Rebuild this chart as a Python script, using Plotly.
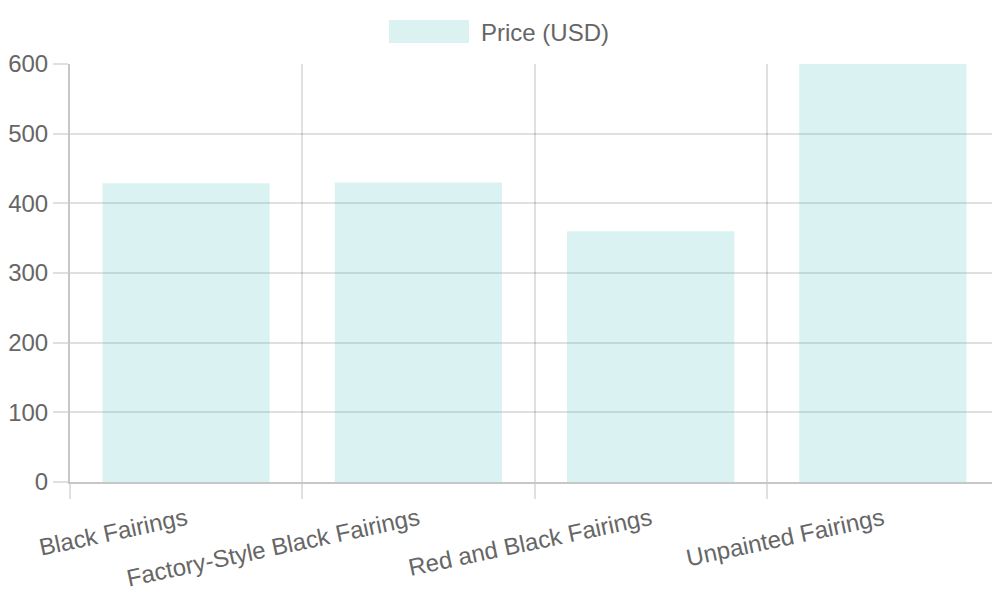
import plotly.graph_objs as go

categories = ["Black Fairings", "Factory-Style Black Fairings", "Red and Black Fairings", "Unpainted Fairings"]
prices = [429, 430, 360, 600]
series_name = "Price (USD)"
y_ticks = [0, 100, 200, 300, 400, 500, 600]

font_family = "Liberation Sans, Arial, sans-serif"
text_color = "#666666"
grid_color = "rgba(0,0,0,0.12)"
axis_color = "rgba(0,0,0,0.22)"
fill_color = "rgba(75,192,192,0.2)"

# the page has an 8px body margin, so the figure is a bit smaller than the window
fig_w, fig_h = 992, 592
m_l, m_r, m_t, m_b = 62, 1, 56, 118
plot_w = fig_w - m_l - m_r
plot_h = fig_h - m_t - m_b


def px_x(x):
    return (x - 8 - m_l) / plot_w


def px_y(y):
    return (fig_h - m_b - (y - 8)) / plot_h


fig = go.Figure()

fig.add_trace(go.Bar(
    x=categories,
    y=prices,
    name=series_name,
    marker=dict(color=fill_color, line=dict(width=0)),
    showlegend=False,
))

# legend drawn by hand to get the wide swatch
fig.add_shape(
    type="rect", xref="paper", yref="paper",
    x0=px_x(389), x1=px_x(469),
    y0=px_y(43), y1=px_y(20),
    fillcolor=fill_color, line=dict(width=0),
)
fig.add_annotation(
    text=series_name, xref="paper", yref="paper",
    x=px_x(479), y=px_y(32),
    xanchor="left", yanchor="middle", showarrow=False,
    font=dict(size=24, color=text_color, family=font_family),
)

fig.update_layout(
    width=fig_w,
    height=fig_h,
    margin=dict(l=m_l, r=m_r, t=m_t, b=m_b, autoexpand=False),
    plot_bgcolor="white",
    paper_bgcolor="white",
    bargap=0.28,
    font=dict(family=font_family, size=24, color=text_color),
    xaxis=dict(
        tickson="boundaries",
        showgrid=True,
        gridcolor=grid_color,
        gridwidth=1.5,
        ticks="outside",
        ticklen=15,
        tickwidth=1.5,
        tickcolor=grid_color,
        tickangle=-12,
        ticklabelstandoff=12,
        automargin=False,
        showline=True,
        linecolor=axis_color,
        linewidth=2,
        zeroline=False,
    ),
    yaxis=dict(
        range=[0, 600],
        tickvals=y_ticks,
        showgrid=True,
        gridcolor=grid_color,
        gridwidth=1.5,
        ticks="outside",
        ticklen=15,
        tickwidth=1.5,
        tickcolor=grid_color,
        automargin=False,
        showline=True,
        linecolor=axis_color,
        linewidth=2,
        zeroline=False,
    ),
)

fig.write_html("out.html")
